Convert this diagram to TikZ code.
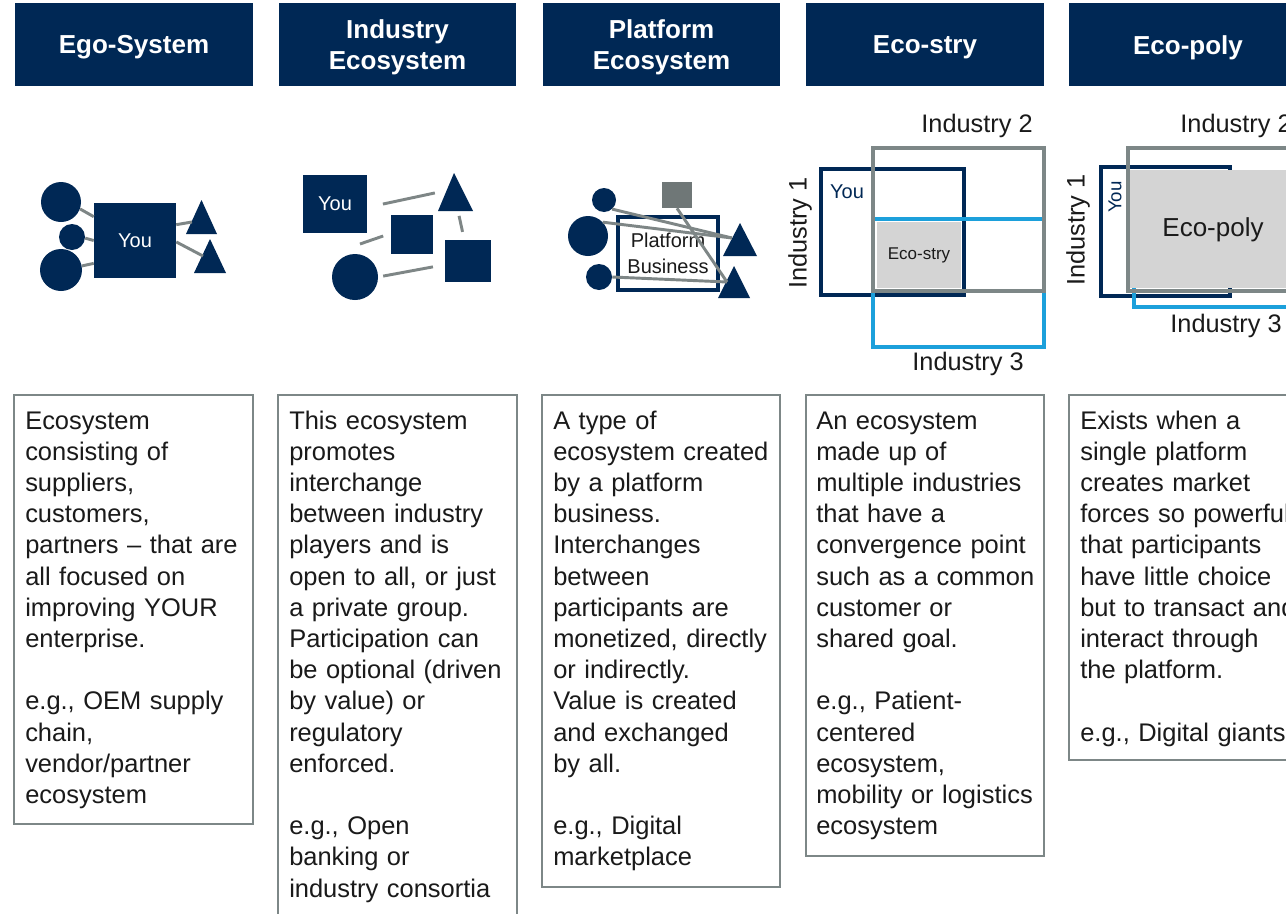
\documentclass[tikz,border=0pt]{standalone}
\usepackage{fontspec}
\setmainfont{Liberation Sans}
\definecolor{navy}{HTML}{002855}
\definecolor{boxgray}{HTML}{7D8787}
\definecolor{linkgray}{HTML}{7E8686}
\definecolor{sqgray}{HTML}{6F7777}
\definecolor{lblue}{HTML}{1CA0DB}
\definecolor{fillgray}{HTML}{D4D4D4}
\definecolor{txt}{HTML}{1A1A1A}
\begin{document}
\begin{tikzpicture}[x=0.75pt,y=-0.75pt,
  hdr/.style={fill=navy,text=white,minimum width=178pt,minimum height=62.25pt,inner sep=0pt,align=center,
    font=\bfseries\fontsize{19.5}{23.25}\selectfont},
  descbox/.style={draw=boxgray,line width=1.5pt},
  body/.style={anchor=base west,text width=200pt,align=left,inner sep=0pt,text=txt,
    font=\fontsize{19.1}{23.4}\selectfont},
  dot/.style={circle,fill=navy,inner sep=0pt},
  navyrect/.style={rectangle,fill=navy,inner sep=0pt,text=white,font=\fontsize{15}{18}\selectfont},
  link/.style={draw=linkgray,line width=2.2pt},
  frame/.style={line width=3pt},
  ind/.style={text=txt,inner sep=0pt,font=\fontsize{19}{22}\selectfont},
]
\useasboundingbox (0,0) rectangle (1286,914);
\clip (0,0) rectangle (1286,914);
\fill[white] (0,0) rectangle (1286,914);

% ---------- headers ----------
\fill[navy] (15,3) rectangle (253,86);
\fill[navy] (279,3) rectangle (516,86);
\fill[navy] (543,3) rectangle (780,86);
\fill[navy] (806,3) rectangle (1044,86);
\fill[navy] (1069,3) rectangle (1307,86);
\node[hdr,fill=none] (h1) at (134,47.5) {Ego-System};
\node[hdr,fill=none] (h2) at (397.5,47.5) {Industry\\Ecosystem};
\node[hdr,fill=none] (h3) at (661.5,47.5) {Platform\\Ecosystem};
\node[hdr,fill=none] (h4) at (925,47.5) {Eco-stry};
\node[hdr,fill=none] (h5) at (1188,47.5) {Eco-poly};

% ---------- column 1: Ego-System ----------
\node[dot,minimum size=30pt] (c1a) at (61,202) {};
\node[dot,minimum size=19.5pt] (c1b) at (72,237) {};
\node[dot,minimum size=31.5pt] (c1c) at (61,270) {};
\node[navyrect,minimum width=61.5pt,minimum height=56.25pt] (you1) at (135,240.5) {You};
\fill[navy] (186,234) -- (201.5,200) -- (217,234) -- cycle;
\fill[navy] (194,273) -- (210,239) -- (226,273) -- cycle;
\coordinate (t1a) at (192,222);
\coordinate (t1b) at (203,256);
\draw[link] (c1a.-20) -- (you1.150);
\draw[link] (c1b.-5) -- (you1.180);
\draw[link] (c1c.11) -- (you1.209);
\draw[link] (you1.21) -- (t1a);
\draw[link] (you1.-2) -- (t1b);

% ---------- column 2: Industry Ecosystem ----------
\node[navyrect,minimum width=48pt,minimum height=43.5pt] (you2) at (335,204) {You};
\fill[navy] (438,211) -- (454,173) -- (473,211) -- cycle;
\coordinate (t2L) at (444,191);
\coordinate (t2B) at (458,211);
\node[navyrect,minimum width=31.5pt,minimum height=29.25pt] (sq2a) at (412,234.5) {};
\node[navyrect,minimum width=34.5pt,minimum height=31.5pt] (sq2b) at (468,261) {};
\node[dot,minimum size=34.5pt] (c2) at (355,277) {};
\coordinate (c2n) at (360,244);
\draw[link,shorten <=12pt,shorten >=7pt] (you2.-6) -- (t2L);
\draw[link,shorten <=3.75pt,shorten >=6pt] (t2B) -- (sq2b.100);
\draw[link,shorten >=6pt] (c2n) -- (sq2a.177);
\draw[link,shorten <=3.75pt,shorten >=9pt] (c2.0) -- (sq2b.189);

% ---------- column 3: Platform Ecosystem ----------
\node[dot,minimum size=18pt] (c3a) at (604,200) {};
\node[dot,minimum size=30pt] (c3b) at (588,236) {};
\node[dot,minimum size=19.5pt] (c3c) at (599,277) {};
\node[rectangle,fill=sqgray,inner sep=0pt,minimum width=22.5pt,minimum height=19.5pt] (sqg) at (677,195) {};
\node[rectangle,draw=navy,line width=3pt,fill=white,minimum width=75pt,minimum height=54.75pt,inner sep=0pt,
  align=center,text=txt,font=\fontsize{15}{19.5}\selectfont] (plat) at (668,253.5) {Platform\\Business};
\fill[navy] (723,256) -- (740,223) -- (757,256) -- cycle;
\fill[navy] (718,298) -- (734,266) -- (750,298) -- cycle;
\coordinate (t3a) at (732,238);
\coordinate (t3b) at (727,282);
\draw[link] (c3a.-48) -- (t3a);
\draw[link] (c3b.43) -- (t3a);
\draw[link] (sqg.south) -- (t3b);
\draw[link] (c3c.0) -- (t3b);

% ---------- column 4: Eco-stry ----------
\draw[frame,draw=navy] (821,169) rectangle (964,295);
\draw[frame,draw=lblue] (873,219) rectangle (1044,347);
\draw[frame,draw=boxgray] (873,148) rectangle (1044,291);
\fill[fillgray] (877,222) rectangle (961,288);
\node[text=navy,inner sep=0pt,font=\fontsize{15}{18}\selectfont] (you4) at (847,192) {You};
\node[text=txt,inner sep=0pt,font=\fontsize{12.75}{15}\selectfont] (eco4) at (919,255) {Eco-stry};
\node[ind,rotate=90] (i41) at (800,233) {Industry 1};
\node[ind] (i42) at (977,126) {Industry 2};
\node[ind] (i43) at (968,364) {Industry 3};

% ---------- column 5: Eco-poly ----------
\draw[frame,draw=navy] (1101,167) rectangle (1230,296);
\draw[frame,draw=lblue] (1134,220) rectangle (1330,307);
\draw[frame,draw=boxgray] (1128,148) rectangle (1330,291);
\fill[fillgray] (1130,170) rectangle (1330,288);
\node[text=navy,inner sep=0pt,rotate=90,font=\fontsize{14}{17}\selectfont] (you5) at (1115,197) {You};
\node[text=txt,inner sep=0pt,font=\fontsize{19.5}{23}\selectfont] (eco5) at (1213,230) {Eco-poly};
\node[ind,rotate=90] (i51) at (1078,230) {Industry 1};
\node[ind] (i52) at (1236,126) {Industry 2};
\node[ind] (i53) at (1226,326) {Industry 3};

% ---------- description boxes ----------
\draw[descbox] (14,395) rectangle (253,824);
\draw[descbox] (278,395) rectangle (517,940);
\draw[descbox] (542,395) rectangle (780,887);
\draw[descbox] (806,395) rectangle (1044,856);
\draw[descbox] (1069,395) rectangle (1330,760);

\node[body] (d1) at (25,429) {Ecosystem\\consisting of\\suppliers,\\customers,\\partners – that are\\all focused on\\improving YOUR\\enterprise.\\[23.4pt]e.g., OEM supply\\chain,\\vendor/partner\\ecosystem};
\node[body] (d2) at (289,429) {This ecosystem\\promotes\\interchange\\between industry\\players and is\\open to all, or just\\a private group.\\Participation can\\be optional (driven\\by value) or\\regulatory\\enforced.\\[23.4pt]e.g., Open\\banking or\\industry consortia};
\node[body] (d3) at (553,429) {A type of\\ecosystem created\\by a platform\\business.\\Interchanges\\between\\participants are\\monetized, directly\\or indirectly.\\Value is created\\and exchanged\\by all.\\[23.4pt]e.g., Digital\\marketplace};
\node[body] (d4) at (816,429) {An ecosystem\\made up of\\multiple industries\\that have a\\convergence point\\such as a common\\customer or\\shared goal.\\[23.4pt]e.g., Patient-\\centered\\ecosystem,\\mobility or logistics\\ecosystem};
\node[body] (d5) at (1080,429) {Exists when a\\single platform\\creates market\\forces so powerful\\that participants\\have little choice\\but to transact and\\interact through\\the platform.\\[23.4pt]e.g., Digital giants};
\end{tikzpicture}
\end{document}
